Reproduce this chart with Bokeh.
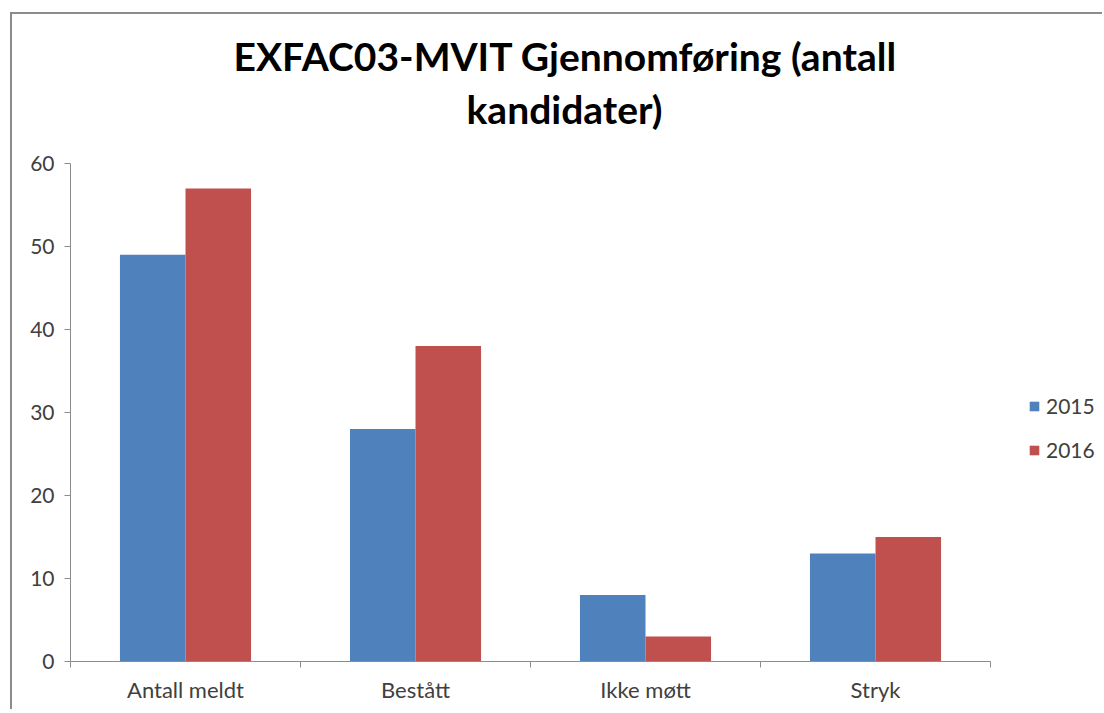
from bokeh.plotting import figure
from bokeh.models import (ColumnDataSource, Range1d, FixedTicker, SingleIntervalTicker,
                          Legend, LegendItem, Title)
from bokeh.transform import dodge
from bokeh.embed import file_html
from bokeh.resources import INLINE

categories = ["Antall meldt", "Bestått", "Ikke møtt", "Stryk"]
series_2015 = [49, 28, 8, 13]
series_2016 = [57, 38, 3, 15]
series_names = ["2015", "2016"]
title_lines = ["EXFAC03-MVIT Gjennomføring (antall", "kandidater)"]

FONT = "Lato"
TXT = "#404040"
GRID = "#8c8c8c"
BLUE = "#4F81BD"
RED = "#C0504D"

n = len(categories)
pos = [i + 0.5 for i in range(n)]
src = ColumnDataSource(dict(x=pos, y2015=series_2015, y2016=series_2016))

# frame extends to the right so the legend can sit inside it; grid/axis bounded to the categories
p = figure(width=1092, height=697, output_backend="svg", toolbar_location=None,
           x_range=Range1d(0, n * 1032 / 920), y_range=Range1d(0, 60),
           min_border_left=58, min_border_right=2, min_border_top=149,
           min_border_bottom=50, title=None)
p.styles = {"border-left": "2px solid #8c8c8c", "border-top": "2px solid #8c8c8c",
            "margin-left": "10px", "margin-top": "12px"}

t2 = Title(text=title_lines[1], align="left", offset=396, text_font=FONT,
           text_font_size="39px", text_font_style="bold", text_color="#000000",
           standoff=64)
t1 = Title(text=title_lines[0], align="left", offset=163, text_font=FONT,
           text_font_size="39px", text_font_style="bold", text_color="#000000",
           standoff=-54)
p.add_layout(t2, "above")
p.add_layout(t1, "above")

p.outline_line_color = None
p.background_fill_color = "white"
p.border_fill_color = "white"

bw = 0.285
r1 = p.vbar(x=dodge("x", -bw / 2, range=p.x_range), top="y2015", width=bw,
            source=src, fill_color=BLUE, line_color=None)
r2 = p.vbar(x=dodge("x", bw / 2, range=p.x_range), top="y2016", width=bw,
            source=src, fill_color=RED, line_color=None)

# x axis
p.xaxis.bounds = (0, n)
p.xaxis.ticker = FixedTicker(ticks=pos, minor_ticks=list(range(n + 1)))
p.xaxis.major_label_overrides = {pv: c for pv, c in zip(pos, categories)}
p.xaxis.major_tick_line_color = None
p.xaxis.minor_tick_in = 0
p.xaxis.minor_tick_out = 6
p.xaxis.minor_tick_line_color = GRID
p.xaxis.axis_line_color = GRID
p.xaxis.major_label_text_font = FONT
p.xaxis.major_label_text_font_size = "22px"
p.xaxis.major_label_text_color = TXT
p.xaxis.major_label_standoff = 8
p.xgrid.grid_line_color = None

# y axis
p.yaxis.ticker = SingleIntervalTicker(interval=10, num_minor_ticks=0)
p.yaxis.major_tick_in = 0
p.yaxis.major_tick_out = 6
p.yaxis.major_tick_line_color = GRID
p.yaxis.minor_tick_line_color = None
p.yaxis.axis_line_color = GRID
p.yaxis.major_label_text_font = FONT
p.yaxis.major_label_text_font_size = "21px"
p.yaxis.major_label_text_color = TXT
p.yaxis.major_label_standoff = 10
p.ygrid.grid_line_color = GRID
p.ygrid.grid_line_width = 1
p.ygrid.bounds = (0, n)

legend = Legend(items=[LegendItem(label=series_names[0], renderers=[r1]),
                       LegendItem(label=series_names[1], renderers=[r2])],
                location=(958, 199), orientation="vertical")
legend.border_line_color = None
legend.background_fill_alpha = 0
legend.padding = 0
legend.margin = 0
legend.spacing = 19
legend.glyph_width = 12
legend.glyph_height = 12
legend.label_height = 22
legend.label_standoff = 6
legend.label_text_font = FONT
legend.label_text_font_size = "21px"
legend.label_text_color = TXT
p.add_layout(legend)

open("out.html", "w").write(file_html(p, INLINE))
